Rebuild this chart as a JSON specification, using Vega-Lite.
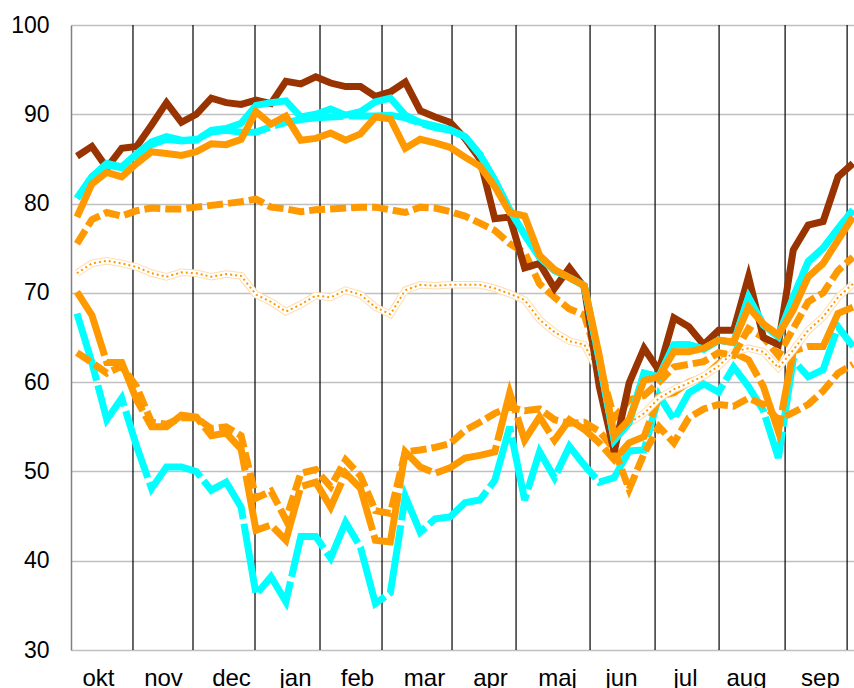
{
  "$schema": "https://vega.github.io/schema/vega-lite/v6.json",
  "width": 783,
  "height": 625,
  "autosize": "none",
  "padding": {"left": 71, "top": 25, "right": 0, "bottom": 38},
  "background": "white",
  "config": {"view": {"stroke": null}},
  "datasets": {
    "months": [
      {"w": 3.753}, {"w": 7.775}, {"w": 11.93}, {"w": 16.287}, {"w": 20.442}, {"w": 25.134},
      {"w": 29.424}, {"w": 34.383}, {"w": 38.74}, {"w": 43.029}, {"w": 47.453}, {"w": 51.609}
    ],
    "series": [
      {"w":0,"mx":85.3,"b1":80.6,"b2":80.6,"c":78.5,"d":75.5,"e":72.2,"f":63.3,"g":70.1,"h":67.7},
      {"w":1,"mx":86.4,"b1":83.0,"b2":83.0,"c":82.2,"d":78.2,"e":73.3,"f":62.2,"g":67.5,"h":62.2},
      {"w":2,"mx":84.0,"b1":84.5,"b2":84.3,"c":83.5,"d":79.0,"e":73.6,"f":61.0,"g":62.2,"h":55.8},
      {"w":3,"mx":86.2,"b1":84.1,"b2":84.0,"c":83.0,"d":78.6,"e":73.3,"f":61.8,"g":62.2,"h":58.2},
      {"w":4,"mx":86.4,"b1":85.6,"b2":85.4,"c":84.5,"d":79.2,"e":72.9,"f":59.5,"g":58.0,"h":52.8},
      {"w":5,"mx":88.8,"b1":86.9,"b2":86.6,"c":85.8,"d":79.5,"e":72.2,"f":55.5,"g":55.0,"h":48.1},
      {"w":6,"mx":91.3,"b1":87.5,"b2":87.2,"c":85.6,"d":79.4,"e":71.8,"f":55.3,"g":55.0,"h":50.5},
      {"w":7,"mx":89.1,"b1":87.1,"b2":87.0,"c":85.4,"d":79.4,"e":72.3,"f":56.0,"g":56.3,"h":50.5},
      {"w":8,"mx":90.0,"b1":87.1,"b2":87.2,"c":85.8,"d":79.6,"e":72.2,"f":56.0,"g":56.1,"h":50.0},
      {"w":9,"mx":91.8,"b1":88.2,"b2":88.0,"c":86.7,"d":79.8,"e":71.8,"f":54.8,"g":54.0,"h":47.9},
      {"w":10,"mx":91.3,"b1":88.4,"b2":88.2,"c":86.6,"d":80.0,"e":72.1,"f":55.0,"g":54.3,"h":48.8},
      {"w":11,"mx":91.1,"b1":89.0,"b2":88.0,"c":87.2,"d":80.2,"e":71.9,"f":54.0,"g":52.5,"h":46.0},
      {"w":12,"mx":91.6,"b1":91.0,"b2":88.0,"c":90.3,"d":80.5,"e":69.8,"f":47.0,"g":43.4,"h":36.2},
      {"w":13,"mx":91.2,"b1":91.3,"b2":88.6,"c":88.9,"d":79.6,"e":69.0,"f":47.8,"g":44.0,"h":38.2},
      {"w":14,"mx":93.7,"b1":91.5,"b2":89.1,"c":89.8,"d":79.4,"e":67.9,"f":44.6,"g":42.3,"h":35.4},
      {"w":15,"mx":93.4,"b1":89.7,"b2":89.4,"c":87.1,"d":79.1,"e":68.7,"f":49.8,"g":48.3,"h":42.7},
      {"w":16,"mx":94.2,"b1":90.0,"b2":89.6,"c":87.3,"d":79.3,"e":69.7,"f":50.2,"g":48.8,"h":42.7},
      {"w":17,"mx":93.5,"b1":90.6,"b2":89.7,"c":87.9,"d":79.4,"e":69.5,"f":48.3,"g":46.0,"h":40.3},
      {"w":18,"mx":93.1,"b1":89.9,"b2":89.8,"c":87.1,"d":79.5,"e":70.3,"f":51.3,"g":49.8,"h":44.3},
      {"w":19,"mx":93.1,"b1":90.3,"b2":89.8,"c":87.8,"d":79.6,"e":69.8,"f":49.5,"g":48.1,"h":41.5},
      {"w":20,"mx":92.0,"b1":91.4,"b2":89.8,"c":89.7,"d":79.6,"e":68.4,"f":45.6,"g":42.3,"h":35.2},
      {"w":21,"mx":92.5,"b1":91.8,"b2":89.9,"c":89.5,"d":79.3,"e":67.6,"f":45.3,"g":42.1,"h":36.4},
      {"w":22,"mx":93.6,"b1":89.9,"b2":89.6,"c":86.2,"d":79.0,"e":70.3,"f":52.2,"g":52.2,"h":47.2},
      {"w":23,"mx":90.4,"b1":89.1,"b2":89.0,"c":87.2,"d":79.6,"e":70.9,"f":52.4,"g":50.5,"h":43.2},
      {"w":24,"mx":89.7,"b1":88.7,"b2":88.5,"c":86.8,"d":79.5,"e":70.8,"f":52.7,"g":49.8,"h":44.7},
      {"w":25,"mx":89.1,"b1":88.3,"b2":88.2,"c":86.3,"d":79.1,"e":70.9,"f":53.1,"g":50.4,"h":44.9},
      {"w":26,"mx":87.3,"b1":87.5,"b2":87.5,"c":85.2,"d":78.6,"e":70.9,"f":54.6,"g":51.5,"h":46.5},
      {"w":27,"mx":85.0,"b1":85.5,"b2":85.5,"c":84.2,"d":77.8,"e":70.9,"f":55.5,"g":51.8,"h":46.8},
      {"w":28,"mx":78.3,"b1":82.6,"b2":82.6,"c":81.9,"d":77.0,"e":70.5,"f":56.5,"g":52.2,"h":49.0},
      {"w":29,"mx":78.5,"b1":79.3,"b2":79.3,"c":79.0,"d":75.5,"e":69.9,"f":57.2,"g":58.8,"h":55.0},
      {"w":30,"mx":72.8,"b1":76.5,"b2":76.5,"c":78.6,"d":74.5,"e":69.2,"f":56.8,"g":53.5,"h":46.8},
      {"w":31,"mx":73.3,"b1":74.0,"b2":74.0,"c":74.2,"d":71.0,"e":67.0,"f":57.0,"g":56.1,"h":52.2},
      {"w":32,"mx":70.5,"b1":72.5,"b2":72.5,"c":72.6,"d":69.5,"e":65.6,"f":55.8,"g":53.5,"h":49.3},
      {"w":33,"mx":72.8,"b1":71.7,"b2":71.7,"c":71.7,"d":68.2,"e":64.6,"f":55.4,"g":55.8,"h":52.8},
      {"w":34,"mx":70.6,"b1":70.8,"b2":70.8,"c":70.8,"d":67.5,"e":64.2,"f":55.5,"g":54.7,"h":50.7},
      {"w":35,"mx":59.5,"b1":62.5,"b2":62.5,"c":63.0,"d":62.0,"e":61.0,"f":54.5,"g":53.2,"h":48.8},
      {"w":36,"mx":52.2,"b1":53.5,"b2":53.5,"c":54.0,"d":56.0,"e":54.5,"f":52.5,"g":51.3,"h":49.3},
      {"w":37,"mx":59.9,"b1":55.5,"b2":55.5,"c":55.8,"d":58.0,"e":55.4,"f":48.0,"g":53.2,"h":52.3},
      {"w":38,"mx":63.8,"b1":61.0,"b2":61.0,"c":60.2,"d":58.5,"e":56.5,"f":52.0,"g":53.9,"h":52.4},
      {"w":39,"mx":61.3,"b1":60.6,"b2":60.6,"c":60.6,"d":60.0,"e":58.2,"f":55.0,"g":58.4,"h":58.5},
      {"w":40,"mx":67.2,"b1":64.2,"b2":64.2,"c":63.4,"d":61.7,"e":59.2,"f":53.2,"g":58.8,"h":55.8},
      {"w":41,"mx":66.2,"b1":64.2,"b2":64.2,"c":63.4,"d":62.0,"e":59.9,"f":56.0,"g":60.0,"h":58.8},
      {"w":42,"mx":64.2,"b1":63.7,"b2":63.7,"c":63.8,"d":62.3,"e":60.7,"f":57.0,"g":60.6,"h":59.8},
      {"w":43,"mx":65.8,"b1":64.7,"b2":64.7,"c":64.7,"d":63.3,"e":61.8,"f":57.5,"g":62.1,"h":58.9},
      {"w":44,"mx":65.8,"b1":64.4,"b2":64.4,"c":64.5,"d":63.0,"e":63.4,"f":57.3,"g":63.3,"h":61.7},
      {"w":45,"mx":71.8,"b1":69.5,"b2":69.5,"c":68.4,"d":66.0,"e":63.8,"f":58.2,"g":62.5,"h":59.5},
      {"w":46,"mx":65.0,"b1":66.4,"b2":66.4,"c":66.5,"d":65.0,"e":63.4,"f":57.5,"g":59.5,"h":56.8},
      {"w":47,"mx":64.2,"b1":65.1,"b2":65.1,"c":65.3,"d":63.0,"e":61.6,"f":55.8,"g":54.5,"h":51.5},
      {"w":48,"mx":74.8,"b1":69.5,"b2":69.5,"c":68.1,"d":66.0,"e":63.6,"f":56.6,"g":63.5,"h":62.5},
      {"w":49,"mx":77.6,"b1":73.5,"b2":73.5,"c":71.8,"d":69.0,"e":65.8,"f":57.5,"g":64.0,"h":60.6},
      {"w":50,"mx":78.0,"b1":75.0,"b2":75.0,"c":73.3,"d":70.0,"e":67.3,"f":59.0,"g":64.0,"h":61.4},
      {"w":51,"mx":83.0,"b1":77.2,"b2":77.2,"c":75.9,"d":72.5,"e":69.5,"f":61.0,"g":67.7,"h":66.2},
      {"w":52,"mx":84.5,"b1":79.3,"b2":79.3,"c":78.5,"d":74.0,"e":71.0,"f":62.0,"g":68.4,"h":64.0}
    ]
  },
  "encoding": {
    "x": {
      "field": "w", "type": "quantitative",
      "scale": {"domain": [-0.4, 52.07], "nice": false, "zero": false},
      "axis": {
        "title": null,
        "values": [1.407, 5.763, 10.32, 14.608, 18.763, 23.253, 27.676, 32.165, 36.454, 40.743, 44.83, 49.789],
        "labelExpr": "['okt','nov','dec','jan','feb','mar','apr','maj','jun','jul','aug','sep'][indexof([1.407, 5.763, 10.32, 14.608, 18.763, 23.253, 27.676, 32.165, 36.454, 40.743, 44.83, 49.789], datum.value)]",
        "grid": false, "ticks": false, "tickSize": 0, "domain": false,
        "labelFont": "Liberation Sans", "labelFontSize": 24, "labelColor": "#000000",
        "labelPadding": 35, "labelBaseline": "alphabetic", "labelAlign": "center",
        "labelFlush": false, "labelOverlap": false
      }
    }
  },
  "layer": [
    {
      "data": {"name": "months"},
      "mark": {"type": "rule", "color": "#000000", "strokeWidth": 1.2},
      "encoding": {}
    },
    {
      "data": {"name": "series"},
      "mark": {"type": "line", "color": "#00FFFF", "strokeWidth": 7, "strokeDash": [70, 5]},
      "encoding": {
        "y": {"field": "h", "type": "quantitative", "scale": {"domain": [30, 100], "nice": false, "zero": false},
          "axis": {"title": null, "values": [30, 40, 50, 60, 70, 80, 90, 100], "grid": true, "gridColor": "#c0c0c0", "gridWidth": 1.5,
            "ticks": false, "tickSize": 0, "domain": true, "domainColor": "#808080", "domainWidth": 1.5,
            "labelFont": "Liberation Sans", "labelFontSize": 23, "labelColor": "#000000", "labelPadding": 22, "labelBaseline": "middle"}}
      }
    },
    {
      "data": {"name": "series"},
      "mark": {"type": "line", "color": "#FF9900", "strokeWidth": 7, "strokeDash": [70, 5]},
      "encoding": {"y": {"field": "g", "type": "quantitative", "scale": {"domain": [30, 100], "nice": false, "zero": false}, "axis": {"title": null, "values": [30, 40, 50, 60, 70, 80, 90, 100]}}}
    },
    {
      "data": {"name": "series"},
      "mark": {"type": "line", "color": "#FF9900", "strokeWidth": 7, "strokeDash": [16, 5]},
      "encoding": {"y": {"field": "f", "type": "quantitative", "scale": {"domain": [30, 100], "nice": false, "zero": false}, "axis": {"title": null, "values": [30, 40, 50, 60, 70, 80, 90, 100]}}}
    },
    {
      "data": {"name": "series"},
      "mark": {"type": "line", "color": "#FFDDB0", "strokeWidth": 7.5},
      "encoding": {"y": {"field": "e", "type": "quantitative", "scale": {"domain": [30, 100], "nice": false, "zero": false}, "axis": {"title": null, "values": [30, 40, 50, 60, 70, 80, 90, 100]}}}
    },
    {
      "data": {"name": "series"},
      "mark": {"type": "line", "color": "#FFFFFF", "strokeWidth": 5.5},
      "encoding": {"y": {"field": "e", "type": "quantitative", "scale": {"domain": [30, 100], "nice": false, "zero": false}, "axis": {"title": null, "values": [30, 40, 50, 60, 70, 80, 90, 100]}}}
    },
    {
      "data": {"name": "series"},
      "mark": {"type": "line", "color": "#FF9900", "strokeWidth": 2, "strokeDash": [2, 3]},
      "encoding": {"y": {"field": "e", "type": "quantitative", "scale": {"domain": [30, 100], "nice": false, "zero": false}, "axis": {"title": null, "values": [30, 40, 50, 60, 70, 80, 90, 100]}}}
    },
    {
      "data": {"name": "series"},
      "mark": {"type": "line", "color": "#FF9900", "strokeWidth": 7, "strokeDash": [16, 5]},
      "encoding": {"y": {"field": "d", "type": "quantitative", "scale": {"domain": [30, 100], "nice": false, "zero": false}, "axis": {"title": null, "values": [30, 40, 50, 60, 70, 80, 90, 100]}}}
    },
    {
      "data": {"name": "series"},
      "mark": {"type": "line", "color": "#993300", "strokeWidth": 7},
      "encoding": {"y": {"field": "mx", "type": "quantitative", "scale": {"domain": [30, 100], "nice": false, "zero": false}, "axis": {"title": null, "values": [30, 40, 50, 60, 70, 80, 90, 100]}}}
    },
    {
      "data": {"name": "series"},
      "mark": {"type": "line", "color": "#00FFFF", "strokeWidth": 7, "strokeDash": [70, 5]},
      "encoding": {"y": {"field": "b2", "type": "quantitative", "scale": {"domain": [30, 100], "nice": false, "zero": false}, "axis": {"title": null, "values": [30, 40, 50, 60, 70, 80, 90, 100]}}}
    },
    {
      "data": {"name": "series"},
      "mark": {"type": "line", "color": "#00FFFF", "strokeWidth": 7},
      "encoding": {"y": {"field": "b1", "type": "quantitative", "scale": {"domain": [30, 100], "nice": false, "zero": false}, "axis": {"title": null, "values": [30, 40, 50, 60, 70, 80, 90, 100]}}}
    },
    {
      "data": {"name": "series"},
      "mark": {"type": "line", "color": "#FF9900", "strokeWidth": 7},
      "encoding": {"y": {"field": "c", "type": "quantitative", "scale": {"domain": [30, 100], "nice": false, "zero": false}, "axis": {"title": null, "values": [30, 40, 50, 60, 70, 80, 90, 100]}}}
    }
  ]
}
